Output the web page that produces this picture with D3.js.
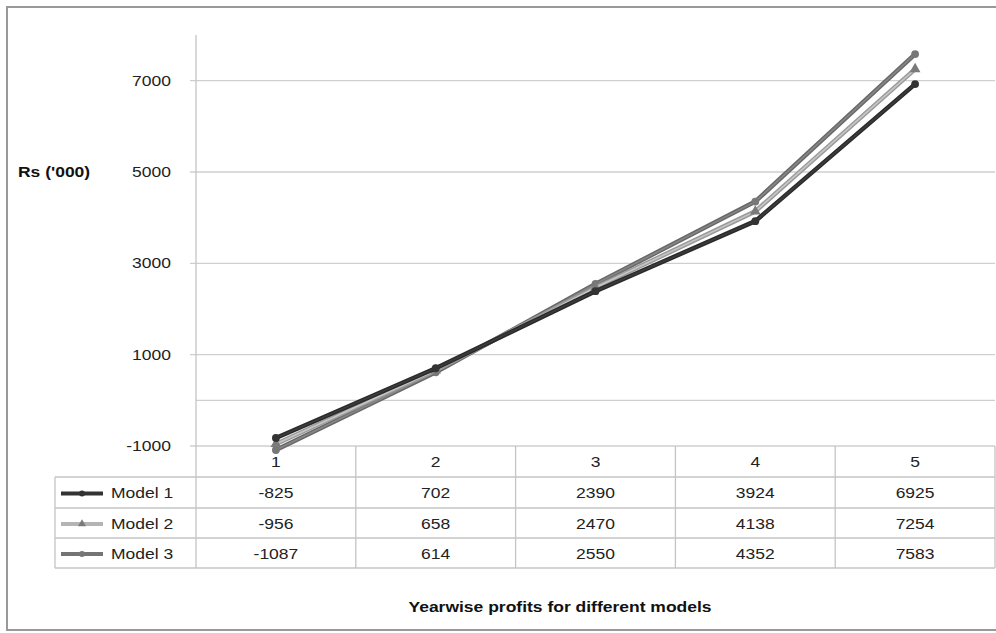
<!DOCTYPE html>
<html>
<head>
<meta charset="utf-8">
<script src="https://cdn.jsdelivr.net/npm/d3@7/dist/d3.min.js"></script>
<style>
  html, body { margin: 0; padding: 0; background: #fff; }
  svg { display: block; font-family: "Liberation Sans", Arial, sans-serif; }
</style>
</head>
<body>
<svg id="chart" width="996" height="633"></svg>
<script>
// Yearwise profits, Rs ('000)
const years = ["1", "2", "3", "4", "5"];
const seriesNames = ["Model 1", "Model 2", "Model 3"];
const model1 = [-825, 702, 2390, 3924, 6925];
const model2 = [-956, 658, 2470, 4138, 7254];
const model3 = [-1087, 614, 2550, 4352, 7583];
const yTicks = [-1000, 1000, 3000, 5000, 7000];
const chartTitle = "Yearwise profits for different models";
const yTitle = "Rs ('000)";

const seriesValues = [model1, model2, model3];
const styles = [
  { outer: "#2a2a2a", inner: "#3c3c3c", key: "#333", marker: "circle", fill: "#333" },
  { outer: "#9a9a9a", inner: "#c6c6c6", key: "#b4b4b4", marker: "triangle", fill: "#7a7a7a" },
  { outer: "#686868", inner: "#868686", key: "#747474", marker: "circle", fill: "#777" }
];

const svg = d3.select("#chart");
const FONT = 14, STRETCH = 1.25;

// text helper: wide Excel-style lettering
function label(parent, px, py, str, opts = {}) {
  parent.append("text")
    .attr("transform", `translate(${px},${py}) scale(${STRETCH},1)`)
    .attr("dy", "0.35em")
    .attr("text-anchor", opts.anchor || "start")
    .attr("font-size", opts.size || FONT)
    .attr("font-weight", opts.bold ? "bold" : "normal")
    .attr("fill", opts.bold ? "#111" : "#222")
    .text(str);
}

// outer frame
svg.append("rect")
  .attr("x", 7).attr("y", 7).attr("width", 1000).attr("height", 623)
  .attr("fill", "#fff").attr("stroke", "#999").attr("stroke-width", 2);

const plotLeft = 196, plotRight = 995, plotTop = 35, plotBottom = 446;
const x = d3.scaleBand().domain(years).range([plotLeft, plotRight]).padding(0);
const y = d3.scaleLinear().domain([-1000, 8000]).range([plotBottom, plotTop]);
const cx = c => x(c) + x.bandwidth() / 2;

// horizontal gridlines with outward tick marks
svg.append("g").selectAll("line").data(yTicks).join("line")
  .attr("x1", plotLeft - 6).attr("x2", plotRight)
  .attr("y1", d => y(d)).attr("y2", d => y(d))
  .attr("stroke", "#cfcfcf").attr("stroke-width", 1.3);

// category axis crossing at zero
svg.append("line")
  .attr("x1", plotLeft).attr("x2", plotRight)
  .attr("y1", y(0)).attr("y2", y(0))
  .attr("stroke", "#cfcfcf").attr("stroke-width", 1.3);

// y tick labels and axis title
const yl = svg.append("g");
yTicks.forEach(t => label(yl, 171, y(t), t, { anchor: "end" }));
label(svg, 18, y(5000), yTitle, { bold: true });

// data table grid
const tableLeft = 55;
const rowTops = [446, 477, 508, 538, 568];
const tg = svg.append("g").attr("stroke", "#c4c4c4").attr("stroke-width", 1.3);
rowTops.slice(1).forEach(r => {
  tg.append("line").attr("x1", tableLeft).attr("x2", plotRight).attr("y1", r).attr("y2", r);
});
tg.append("line").attr("x1", tableLeft).attr("x2", tableLeft).attr("y1", rowTops[1]).attr("y2", rowTops[4]);
tg.append("line").attr("x1", plotRight).attr("x2", plotRight).attr("y1", rowTops[0]).attr("y2", rowTops[4]);
years.forEach((c, i) => {
  if (i > 0) tg.append("line").attr("x1", x(c)).attr("x2", x(c)).attr("y1", rowTops[0]).attr("y2", rowTops[4]);
});
// value axis line
svg.append("line")
  .attr("x1", plotLeft).attr("x2", plotLeft).attr("y1", plotTop).attr("y2", rowTops[4])
  .attr("stroke", "#c4c4c4").attr("stroke-width", 1.3);

// category labels in header row
const hl = svg.append("g");
years.forEach(c => label(hl, cx(c), (rowTops[0] + rowTops[1]) / 2 + 1, c, { anchor: "middle" }));

// value rows with legend keys
seriesValues.forEach((vals, si) => {
  const rowY = (rowTops[si + 1] + rowTops[si + 2]) / 2 + 1;
  const rg = svg.append("g");
  vals.forEach((v, i) => label(rg, cx(years[i]), rowY, v, { anchor: "middle" }));
  const st = styles[si];
  rg.append("line").attr("x1", 61).attr("x2", 103).attr("y1", rowY).attr("y2", rowY)
    .attr("stroke", st.key).attr("stroke-width", 4);
  rg.append("path")
    .attr("d", d3.symbol().type(st.marker === "triangle" ? d3.symbolTriangle : d3.symbolCircle).size(28)())
    .attr("transform", `translate(82,${rowY})`).attr("fill", st.fill);
  label(rg, 111, rowY, seriesNames[si]);
});

// series lines, drawn Model 3 first so Model 1 sits on top
const line = d3.line().x((d, i) => cx(years[i])).y(d => y(d));
[2, 1, 0].forEach(si => {
  const vals = seriesValues[si], st = styles[si];
  const g = svg.append("g");
  g.append("path").attr("d", line(vals)).attr("fill", "none")
    .attr("stroke", st.outer).attr("stroke-width", 4.5).attr("stroke-linejoin", "round");
  g.append("path").attr("d", line(vals)).attr("fill", "none")
    .attr("stroke", st.inner).attr("stroke-width", 1.6).attr("stroke-linejoin", "round");
  g.selectAll("path.m").data(vals).join("path").attr("class", "m")
    .attr("d", d3.symbol().type(st.marker === "triangle" ? d3.symbolTriangle : d3.symbolCircle).size(st.marker === "triangle" ? 50 : 48)())
    .attr("transform", (d, i) => `translate(${cx(years[i])},${y(d)})`)
    .attr("fill", st.fill);
});

// chart title
label(svg, 560, 607, chartTitle, { anchor: "middle", bold: true });
</script>
</body>
</html>
